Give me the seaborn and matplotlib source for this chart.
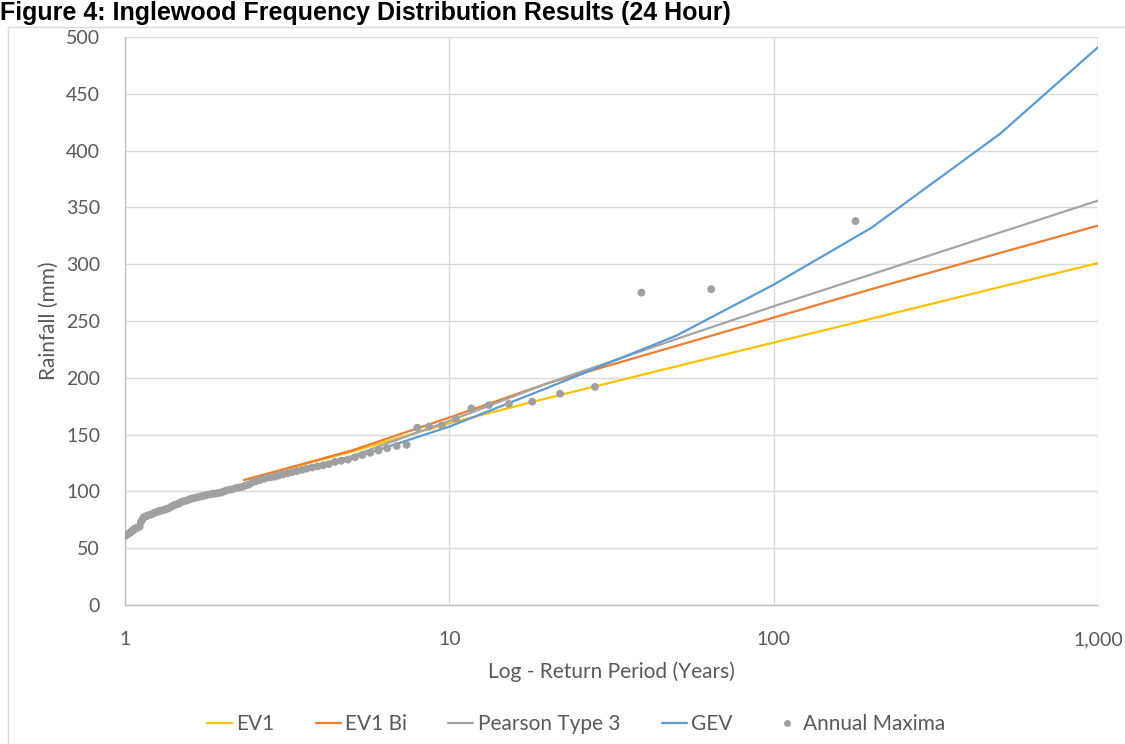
import matplotlib
matplotlib.use('Agg')
import matplotlib.pyplot as plt
import matplotlib.ticker as mticker
from matplotlib.patches import Rectangle
from matplotlib.lines import Line2D
import seaborn as sns
import pandas as pd

# fitted distributions (return period in years, rainfall in mm)
return_periods = [2.33, 5, 10, 20, 50, 100, 200, 500, 1000]
ev1 = [110, 135, 160, 182, 210, 231, 252, 280, 301]
ev1_bi = [110, 136, 165, 195, 228, 253, 278, 310, 334]
pearson3 = [107, 131, 162, 195, 234, 263, 291, 328, 356]
gev = [105, 129, 157, 191, 237, 282, 332, 415, 491]

# annual maxima (largest first)
am_period = [178.8, 64.18, 39.11, 28.12, 21.96, 18.01, 15.26, 13.24, 11.70, 10.47,
             9.48, 8.66, 7.97, 7.38, 6.88, 6.43, 6.05, 5.70, 5.39, 5.12,
             4.87, 4.64, 4.44, 4.25, 4.08, 3.92, 3.77, 3.63, 3.51, 3.39,
             3.28, 3.17, 3.07, 2.98, 2.90, 2.82, 2.74, 2.67, 2.60, 2.53,
             2.47, 2.41, 2.35, 2.30, 2.25, 2.20, 2.15, 2.11, 2.06, 2.02,
             1.98, 1.94, 1.90, 1.87, 1.84, 1.80, 1.77, 1.74, 1.71, 1.68,
             1.65, 1.63, 1.60, 1.58, 1.55, 1.53, 1.50, 1.48, 1.46, 1.44,
             1.42, 1.40, 1.38, 1.36, 1.34, 1.33, 1.31, 1.29, 1.27, 1.26,
             1.24, 1.23, 1.21, 1.20, 1.18, 1.17, 1.16, 1.14, 1.13, 1.12,
             1.11, 1.09, 1.08, 1.07, 1.06, 1.05, 1.04, 1.03, 1.02, 1.006]
am_rainfall = [338, 278, 275, 192, 186, 179, 177, 176, 173, 164,
               158, 157, 156, 141, 140, 138, 136, 134, 132, 130,
               128, 127, 126, 124, 123, 122, 121, 120, 119, 118,
               117, 116, 115, 114, 113, 112.5, 112, 111, 110, 109,
               108, 106, 105, 104, 103.5, 103, 102, 101.5, 101, 100,
               99, 98.5, 98, 98, 97.5, 97, 96.5, 96, 95.5, 95,
               94.5, 94, 93.5, 93, 92, 91.5, 91, 90, 89, 88.5,
               88, 87, 86, 85, 84.5, 84, 83.5, 83, 82.5, 82,
               81.5, 81, 80, 79.5, 79, 78.5, 78, 77, 75, 73,
               69, 68, 67.5, 67, 66, 65, 64, 63, 62.5, 61]

methods = ['EV1', 'EV1 Bi', 'Pearson Type 3', 'GEV']
colors = {'EV1': '#FFC000', 'EV1 Bi': '#ED7D31',
          'Pearson Type 3': '#A5A5A5', 'GEV': '#5B9BD5'}
point_color = '#A0A0A0'
text_color = '#595959'

lines = pd.DataFrame({
    'period': return_periods * 4,
    'rainfall': ev1 + ev1_bi + pearson3 + gev,
    'method': [m for m in methods for _ in return_periods],
})
maxima = pd.DataFrame({'period': am_period, 'rainfall': am_rainfall})

sns.set_style('white')
plt.rcParams['font.family'] = ['Lato', 'DejaVu Sans']

fig = plt.figure(figsize=(11.25, 7.44), dpi=100)
ax = fig.add_axes([125 / 1125, 1 - 605 / 744, 973 / 1125, 568 / 744])

sns.lineplot(data=lines, x='period', y='rainfall', hue='method',
             hue_order=methods, palette=colors, linewidth=1.6,
             legend=False, ax=ax)
sns.scatterplot(data=maxima, x='period', y='rainfall', color=point_color,
                s=32, edgecolor='none', legend=False, ax=ax, zorder=5)

ax.set_xscale('log')
ax.set_xlim(1, 1000)
ax.set_ylim(0, 500)
ax.set_yticks(range(0, 501, 50))
ax.xaxis.set_major_locator(mticker.FixedLocator([1, 10, 100, 1000]))
ax.xaxis.set_minor_locator(mticker.NullLocator())
ax.xaxis.set_major_formatter(mticker.FuncFormatter(lambda v, p: f'{v:,.0f}'))
ax.grid(True, color='#D9D9D9', linewidth=1)
ax.set_axisbelow(True)
for side in ['top', 'right']:
    ax.spines[side].set_visible(False)
for side in ['left', 'bottom']:
    ax.spines[side].set_color('#BFBFBF')
    ax.spines[side].set_linewidth(1)
ax.tick_params(axis='y', length=0, pad=18, labelsize=14, labelcolor=text_color)
ax.tick_params(axis='x', length=0, pad=19, labelsize=14, labelcolor=text_color)

ax.set_xlabel('Log - Return Period (Years)', fontsize=15, color=text_color)
ax.set_ylabel('Rainfall (mm)', fontsize=15, color=text_color)
ax.xaxis.set_label_coords(0.5, -0.1)
ax.yaxis.set_label_coords(-0.068, 0.5)

handles = [Line2D([], [], color=colors[m], linewidth=1.6) for m in methods]
handles.append(Line2D([], [], color=point_color, marker='o', linestyle='none',
                      markersize=5, markeredgewidth=0))
fig.legend(handles, methods + ['Annual Maxima'], loc='center',
           bbox_to_anchor=(576 / 1125, 1 - 724 / 744), ncol=5, frameon=False,
           fontsize=15, labelcolor=text_color, handlelength=1.2,
           handletextpad=0.2, columnspacing=2.0)

# chart frame and caption
fig.patches.append(Rectangle((8 / 1125, -0.02), 1.0, 1.02 - 27 / 744,
                             transform=fig.transFigure, fill=False,
                             edgecolor='#D9D9D9', linewidth=1))
fig.text(0.0, 1 - 20 / 744, 'Figure 4: Inglewood Frequency Distribution Results (24 Hour)',
         fontsize=18, fontweight='bold', family=['Liberation Sans', 'DejaVu Sans'],
         ha='left', va='baseline', color='#000000')

fig.savefig('out.png', dpi=100)
